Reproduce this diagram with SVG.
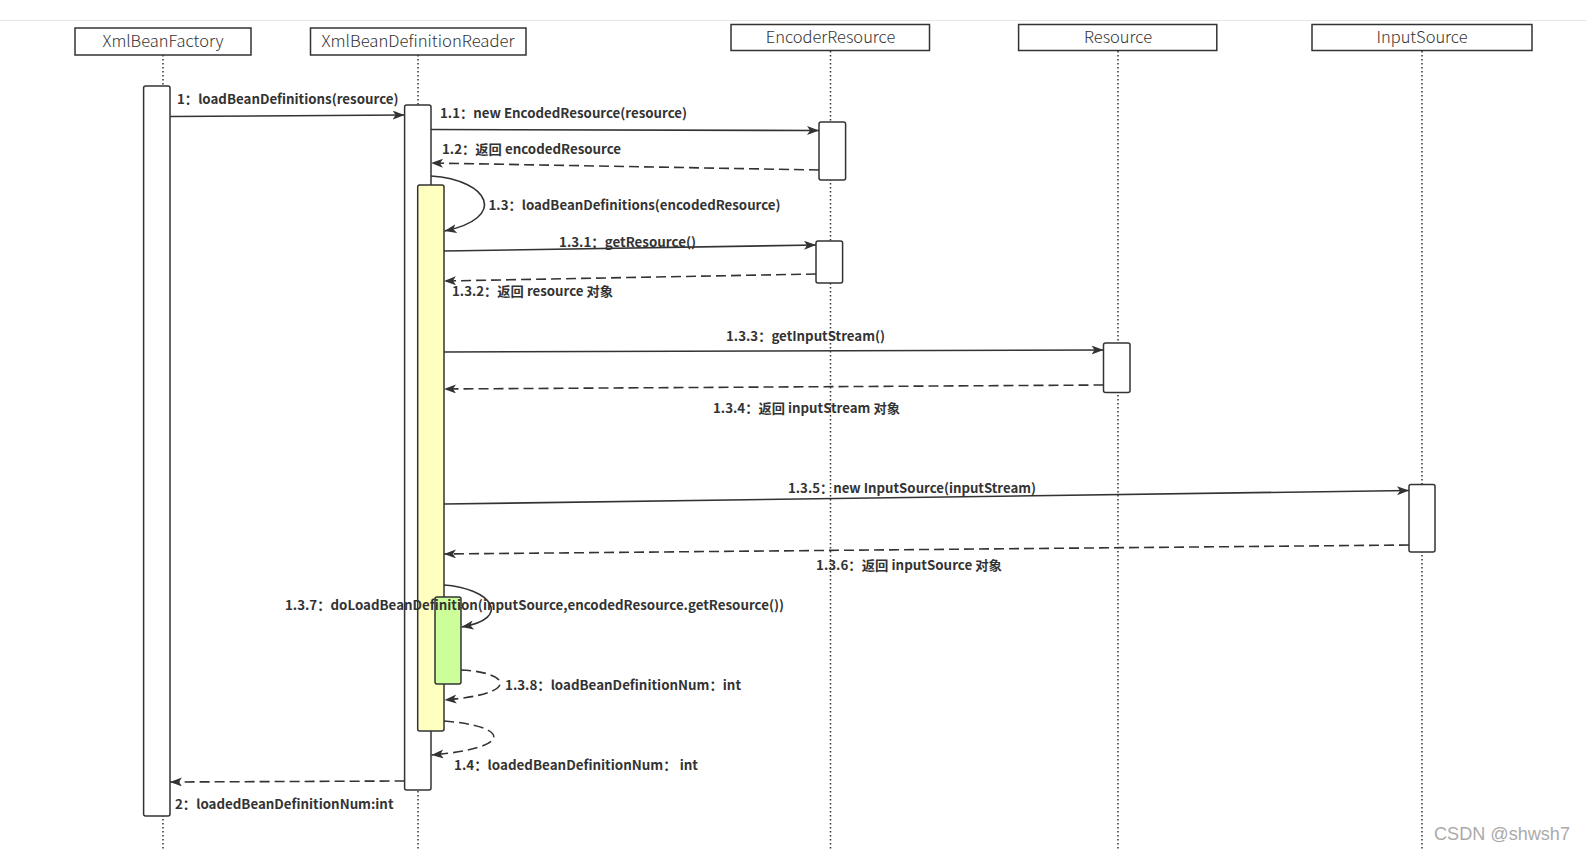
<svg xmlns="http://www.w3.org/2000/svg" width="1586" height="851" viewBox="0 0 1586 851">
<style>
.hdr{fill:#fff;stroke:#333;stroke-width:1.5}
.htx{font-family:"Noto Sans CJK SC","Liberation Sans",sans-serif;font-size:16px;font-weight:300;fill:#333;text-anchor:middle}
.life{stroke:#333;stroke-width:1.5;stroke-dasharray:1.5,2.5;fill:none}
.act{fill:#fff;stroke:#333;stroke-width:1.5}
.msg{stroke:#333;stroke-width:1.6;fill:none;marker-end:url(#arr)}
.ret{stroke:#333;stroke-width:1.6;fill:none;stroke-dasharray:10,5;marker-end:url(#arr)}
.lbl{font-family:"Noto Sans CJK SC","Liberation Sans",sans-serif;font-size:13px;font-weight:bold;fill:#333}
</style>
<defs>
<marker id="arr" markerUnits="userSpaceOnUse" markerWidth="13" markerHeight="10" refX="12" refY="4.5" orient="auto">
<path d="M0,0 L12,4.5 L0,9 L3,4.5 z" fill="#333"/>
</marker>
</defs>
<rect width="1586" height="851" fill="#fff"/>
<line x1="0" y1="20.5" x2="1586" y2="20.5" stroke="#e6e6e6" stroke-width="1"/>

<g id="lifelines">
<line class="life" x1="163" y1="55" x2="163" y2="851"/>
<line class="life" x1="418" y1="55" x2="418" y2="851"/>
<line class="life" x1="830.5" y1="51" x2="830.5" y2="851"/>
<line class="life" x1="1118" y1="51" x2="1118" y2="851"/>
<line class="life" x1="1422" y1="51" x2="1422" y2="851"/>
</g>

<g id="XmlBeanFactory">
<rect class="hdr" x="75" y="28" width="176" height="27"/>
<text class="htx" x="163" y="47" textLength="121" lengthAdjust="spacingAndGlyphs">XmlBeanFactory</text>
<rect class="act" x="143.6" y="86" width="26.4" height="730" rx="2"/>
</g>

<g id="XmlBeanDefinitionReader">
<rect class="hdr" x="310.5" y="28" width="215.5" height="27"/>
<text class="htx" x="418" y="47" textLength="193" lengthAdjust="spacingAndGlyphs">XmlBeanDefinitionReader</text>
<rect class="act" x="404.6" y="105" width="26.4" height="685" rx="2"/>
<rect class="act" x="417.7" y="185" width="26.3" height="546" rx="2" style="fill:#ffffc0"/>
<rect class="act" x="435" y="597" width="26" height="87" rx="2" style="fill:#ccff99"/>
</g>

<g id="EncoderResource">
<rect class="hdr" x="731" y="24.5" width="198.5" height="26"/>
<text class="htx" x="830.5" y="43" textLength="129.5" lengthAdjust="spacingAndGlyphs">EncoderResource</text>
<rect class="act" x="819" y="122" width="26.6" height="58" rx="2"/>
<rect class="act" x="816" y="241" width="26.6" height="42" rx="2"/>
</g>

<g id="Resource">
<rect class="hdr" x="1018.6" y="24.5" width="198.2" height="26"/>
<text class="htx" x="1118" y="43" textLength="68" lengthAdjust="spacingAndGlyphs">Resource</text>
<rect class="act" x="1103.5" y="343" width="26.5" height="49.5" rx="2"/>
</g>

<g id="InputSource">
<rect class="hdr" x="1312" y="24.5" width="220" height="26"/>
<text class="htx" x="1422" y="43" textLength="91" lengthAdjust="spacingAndGlyphs">InputSource</text>
<rect class="act" x="1409" y="484.5" width="26" height="67.5" rx="2"/>
</g>

<g id="connectors">
<path class="msg" d="M170,116.5 L404.6,115"/>
<path class="msg" d="M431,129.5 L819,130.5"/>
<path class="ret" d="M819,170 L431,163"/>
<path class="msg" d="M431,176 C490,180 508,218 444.5,231"/>
<path class="msg" d="M444,251 L816,245"/>
<path class="ret" d="M816,274 L444,281"/>
<path class="msg" d="M444,352 L1103.5,350"/>
<path class="ret" d="M1103.5,385 L444,389"/>
<path class="msg" d="M444,504 L1409,490.5"/>
<path class="ret" d="M1409,545 L444,554"/>
<path class="msg" d="M444,585 C490,588 514,618 461.5,627"/>
<path class="ret" d="M461,670 C510,672 522,694 444.5,700"/>
<path class="ret" d="M444,721 C510,726 515,748 431.5,755"/>
<path class="ret" d="M404.6,781 L170,782"/>
</g>

<g id="labels">
<text class="lbl" x="177" y="103.5" textLength="221.5" lengthAdjust="spacingAndGlyphs">1：loadBeanDefinitions(resource)</text>
<text class="lbl" x="440" y="117.5" textLength="247" lengthAdjust="spacingAndGlyphs">1.1：new EncodedResource(resource)</text>
<text class="lbl" x="442" y="153.5" textLength="179" lengthAdjust="spacingAndGlyphs">1.2：返回 encodedResource</text>
<text class="lbl" x="488.5" y="209.5" textLength="292" lengthAdjust="spacingAndGlyphs">1.3：loadBeanDefinitions(encodedResource)</text>
<text class="lbl" x="559" y="246.5" textLength="137" lengthAdjust="spacingAndGlyphs">1.3.1：getResource()</text>
<text class="lbl" x="452" y="295.5" textLength="161" lengthAdjust="spacingAndGlyphs">1.3.2：返回 resource 对象</text>
<text class="lbl" x="726" y="340.5" textLength="159" lengthAdjust="spacingAndGlyphs">1.3.3：getInputStream()</text>
<text class="lbl" x="713" y="412.5" textLength="187" lengthAdjust="spacingAndGlyphs">1.3.4：返回 inputStream 对象</text>
<text class="lbl" x="788" y="493" textLength="248" lengthAdjust="spacingAndGlyphs">1.3.5：new InputSource(inputStream)</text>
<text class="lbl" x="816" y="569.5" textLength="186" lengthAdjust="spacingAndGlyphs">1.3.6：返回 inputSource 对象</text>
<text class="lbl" x="285" y="609.5" textLength="499" lengthAdjust="spacingAndGlyphs">1.3.7：doLoadBeanDefinition(inputSource,encodedResource.getResource())</text>
<text class="lbl" x="505" y="689.5" textLength="236" lengthAdjust="spacingAndGlyphs">1.3.8：loadBeanDefinitionNum：int</text>
<text class="lbl" x="454" y="769.5" textLength="244" lengthAdjust="spacingAndGlyphs">1.4：loadedBeanDefinitionNum：  int</text>
<text class="lbl" x="175" y="808.5" textLength="218.5" lengthAdjust="spacingAndGlyphs">2：loadedBeanDefinitionNum:int</text>
</g>

<text x="1434" y="840" font-family="Liberation Sans, Arial, sans-serif" font-size="18" fill="#aaa" textLength="136" lengthAdjust="spacingAndGlyphs">CSDN @shwsh7</text>
</svg>
